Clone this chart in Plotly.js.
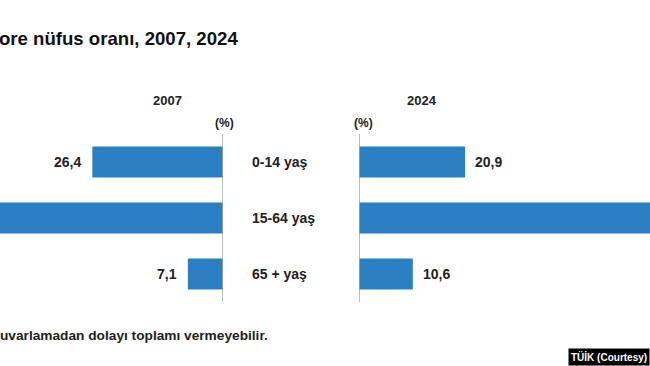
<!DOCTYPE html>
<html>
<head>
<meta charset="utf-8">
<script src="https://cdn.plot.ly/plotly-3.0.1.min.js"></script>
<style>html,body{margin:0;padding:0;background:#fff;}#chart{width:650px;height:366px;}</style>
</head>
<body>
<div id="chart"></div>
<script>
const categories = ['0-14 yaş', '15-64 yaş', '65 + yaş'];
const values2007 = [26.4, 66.5, 7.1];
const values2024 = [20.9, 68.5, 10.6];
const years = ['2007', '2024'];
const titleText = 'ore nüfus oranı, 2007, 2024';
const noteText = 'uvarlamadan dolayı toplamı vermeyebilir.';
const creditText = 'TÜİK (Courtesy)';
const unitText = '(%)';

const FONT = '"Liberation Sans", Arial, sans-serif';
const BLUE = '#2a80c3';
const fmt = v => v.toFixed(1).replace('.', ',');

const rowY = [0, 1, 2];
const traces = [
  {type: 'bar', orientation: 'h', x: values2007, y: rowY, xaxis: 'x', yaxis: 'y',
   marker: {color: BLUE}, width: 0.55, hoverinfo: 'skip'},
  {type: 'bar', orientation: 'h', x: values2024, y: rowY, xaxis: 'x2', yaxis: 'y',
   marker: {color: BLUE}, width: 0.55, hoverinfo: 'skip'}
];

const leftRange = 45.05, rightRange = 57.3;
const annotations = [];
// value labels (the clipped middle bars show none)
values2007.forEach((v, i) => {
  if (v < leftRange) annotations.push({x: v, y: rowY[i], xref: 'x', yref: 'y', xanchor: 'right', yanchor: 'middle', xshift: -9,
    text: '<b>' + fmt(v) + '</b>', showarrow: false, font: {family: FONT, size: 14, color: '#222'}});
});
values2024.forEach((v, i) => {
  if (v < rightRange) annotations.push({x: v, y: rowY[i], xref: 'x2', yref: 'y', xanchor: 'left', yanchor: 'middle', xshift: 8,
    text: '<b>' + fmt(v) + '</b>', showarrow: false, font: {family: FONT, size: 14, color: '#222'}});
});
// category labels
categories.forEach((c, i) => annotations.push({x: 250/650, y: rowY[i], xref: 'paper', yref: 'y', xanchor: 'left', yanchor: 'middle',
  text: '<b>' + c + '</b>', showarrow: false, font: {family: FONT, size: 14, color: '#222'}}));
// year headers
annotations.push({x: 167/650, y: (302 - 100) / 168, xref: 'paper', yref: 'paper', xanchor: 'center', yanchor: 'middle',
  text: '<b>' + years[0] + '</b>', showarrow: false, font: {family: FONT, size: 13, color: '#222'}});
annotations.push({x: 422/650, y: (302 - 100) / 168, xref: 'paper', yref: 'paper', xanchor: 'center', yanchor: 'middle',
  text: '<b>' + years[1] + '</b>', showarrow: false, font: {family: FONT, size: 13, color: '#222'}});
// unit labels
annotations.push({x: 0, xref: 'x', y: (302 - 123) / 168, yref: 'paper', xanchor: 'center', yanchor: 'middle', xshift: 1,
  text: '<b>' + unitText + '</b>', showarrow: false, font: {family: FONT, size: 12, color: '#222'}});
annotations.push({x: 0, xref: 'x2', y: (302 - 123) / 168, yref: 'paper', xanchor: 'center', yanchor: 'middle', xshift: 4,
  text: '<b>' + unitText + '</b>', showarrow: false, font: {family: FONT, size: 12, color: '#222'}});
// title
annotations.push({x: 0, y: (302 - 38) / 168, xref: 'paper', yref: 'paper', xanchor: 'left', yanchor: 'middle', xshift: -3,
  text: '<b>' + titleText + '</b>', showarrow: false, font: {family: FONT, size: 18.6, color: '#111'}});
// note
annotations.push({x: 0, y: (302 - 335) / 168, xref: 'paper', yref: 'paper', xanchor: 'left', yanchor: 'middle', xshift: -2,
  text: '<b>' + noteText + '</b>', showarrow: false, font: {family: FONT, size: 13.7, color: '#222'}});
// credit
annotations.push({x: 1, y: (302 - 366) / 168, xref: 'paper', yref: 'paper', xanchor: 'right', yanchor: 'bottom',
  text: '<b>' + creditText + '</b>', showarrow: false, bgcolor: '#000', borderpad: 2,
  font: {family: FONT, size: 10, color: '#fff'}});

const layout = {
  width: 650, height: 366,
  margin: {l: 0, r: 0, t: 134, b: 64, pad: 0},
  paper_bgcolor: '#fff', plot_bgcolor: '#fff',
  showlegend: false,
  xaxis: {domain: [0, 223/650], range: [leftRange, 0], anchor: 'y', showgrid: false, zeroline: false,
          showticklabels: false, ticks: '', fixedrange: true},
  xaxis2: {domain: [359/650, 1], range: [0, rightRange], anchor: 'y', showgrid: false, zeroline: false,
           showticklabels: false, ticks: '', fixedrange: true},
  yaxis: {range: [2.5, -0.5], showgrid: false, zeroline: false, showticklabels: false, ticks: '', fixedrange: true},
  shapes: [
    {type: 'line', xref: 'x', yref: 'paper', x0: 0, x1: 0, y0: 0, y1: 1, line: {color: '#a8a8a8', width: 1.5}, layer: 'above'},
    {type: 'line', xref: 'x2', yref: 'paper', x0: 0, x1: 0, y0: 0, y1: 1, line: {color: '#a8a8a8', width: 1.5}, layer: 'above'}
  ],
  annotations: annotations
};

Plotly.newPlot('chart', traces, layout, {staticPlot: true, displayModeBar: false});
</script>
</body>
</html>
